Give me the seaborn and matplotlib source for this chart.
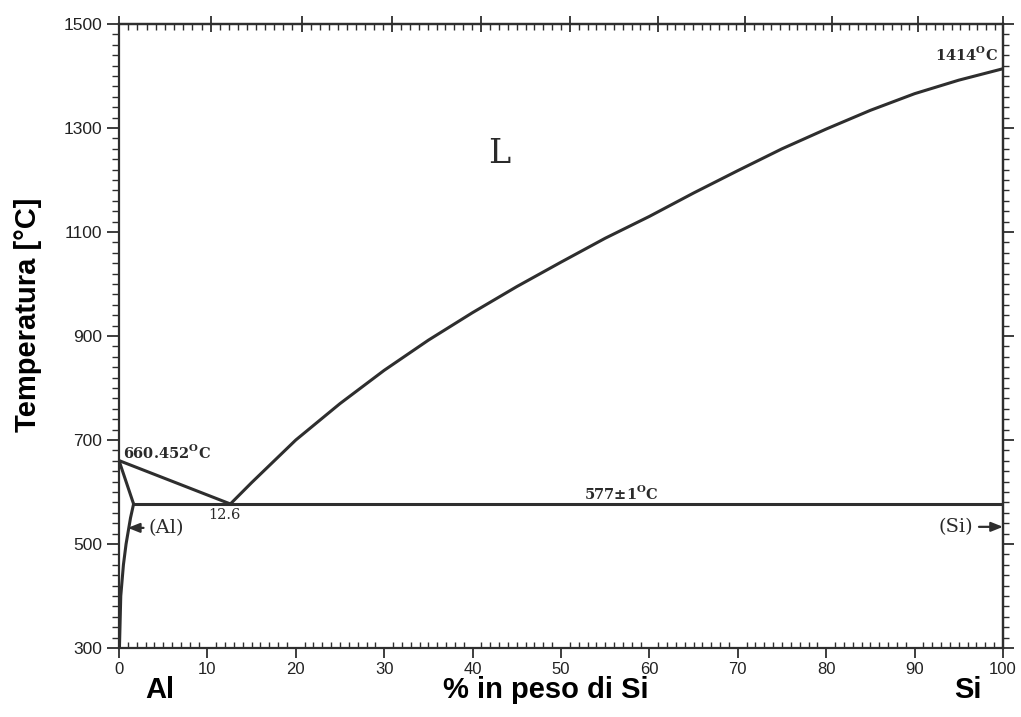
import numpy as np
import pandas as pd
import matplotlib
matplotlib.use("Agg")
import matplotlib.pyplot as plt
import seaborn as sns
from matplotlib.ticker import MultipleLocator

# ---- data ----
liq_si_x = [12.6, 15, 20, 25, 30, 35, 40, 45, 50, 55, 60, 65, 70, 75, 80, 85, 90, 95, 100]
liq_si_t = [577, 618, 700, 770, 834, 892, 945, 995, 1042, 1088, 1130, 1175, 1218, 1260,
            1298, 1334, 1366, 1392, 1414]
liq_al_x = [0.0, 12.6]
liq_al_t = [660.452, 577]
sol_al_x = [0.0, 1.65]
sol_al_t = [660.452, 577]
solvus_x = [1.65, 1.3, 0.8, 0.5, 0.2, 0.05]
solvus_t = [577, 550, 500, 460, 400, 300]
eut_x = [1.65, 100.0]
eut_t = [577, 577]

x_ticks = [0, 10, 20, 30, 40, 50, 60, 70, 80, 90, 100]
y_ticks = [300, 500, 700, 900, 1100, 1300, 1500]

sns.set_style("ticks")
plt.rcParams["font.family"] = ["Liberation Sans", "DejaVu Sans"]
plt.rcParams["mathtext.fontset"] = "custom"
plt.rcParams["mathtext.rm"] = "DejaVu Serif:bold"

fig = plt.figure(figsize=(10.21, 7.17), dpi=100)
ax = fig.add_axes([119/1021, 1-648/717, (1003-119)/1021, (648-24)/717])

lc = "#2e2e2e"
lw = 2.2
for xs, ts in [(liq_si_x, liq_si_t), (liq_al_x, liq_al_t), (sol_al_x, sol_al_t),
               (solvus_x, solvus_t), (eut_x, eut_t)]:
    df = pd.DataFrame({"x": xs, "t": ts})
    sns.lineplot(data=df, x="x", y="t", sort=False, ax=ax, color=lc, lw=lw,
                 estimator=None)

ax.set_xlim(0, 100)
ax.set_ylim(300, 1500)
ax.set_xticks(x_ticks)
ax.set_yticks(y_ticks)
ax.xaxis.set_minor_locator(MultipleLocator(1))
ax.yaxis.set_minor_locator(MultipleLocator(20))
ax.set_xlabel("")
ax.set_ylabel("")
for s in ax.spines.values():
    s.set_linewidth(1.6)
    s.set_color(lc)

ax.tick_params(axis="x", which="major", direction="out", length=7, width=1.3,
               labelsize=12, pad=3, colors=lc)
ax.tick_params(axis="x", which="minor", direction="in", length=4, width=1.0, colors=lc)
ax.tick_params(axis="y", which="major", direction="out", length=9, width=1.3,
               labelsize=12.5, pad=3, colors=lc)
ax.tick_params(axis="y", which="minor", direction="out", length=5, width=1.0, colors=lc)
for lab in ax.get_xticklabels() + ax.get_yticklabels():
    lab.set_color("#222222")

# top axis: atomic percent
def w2a(w):
    w = np.asarray(w, dtype=float)
    a = w / 28.086
    b = (100 - w) / 26.982
    return 100 * a / (a + b)

def a2w(a):
    a = np.asarray(a, dtype=float)
    return 100 * a * 28.086 / (a * 28.086 + (100 - a) * 26.982)

top = ax.secondary_xaxis("top", functions=(w2a, a2w))
top.set_xticks(list(range(0, 101, 10)))
top.xaxis.set_minor_locator(MultipleLocator(1))
top.tick_params(which="major", direction="inout", length=12, width=1.3, labeltop=False, colors=lc)
top.tick_params(which="minor", direction="in", length=4, width=1.0, colors=lc)
top.spines["top"].set_linewidth(1.6)

right = ax.secondary_yaxis("right")
right.set_yticks(y_ticks)
right.yaxis.set_minor_locator(MultipleLocator(20))
right.tick_params(which="major", direction="out", length=8, width=1.3, labelright=False, colors=lc)
right.tick_params(which="minor", direction="out", length=4, width=1.0, colors=lc)
right.spines["right"].set_linewidth(1.6)

# annotations
serif = ["DejaVu Serif"]
tc = "#2a2a2a"
ax.text(0.45, 665, r"660.452$^{\mathrm{O}}$C", family=serif, weight="bold", fontsize=10.5,
        color=tc, ha="left", va="baseline")
ax.text(11.9, 556, "12.6", family=serif, fontsize=10.5, color=tc, ha="center", va="center")
ax.text(56.8, 580, r"577$\pm$1$^{\mathrm{O}}$C", family=serif, weight="bold", fontsize=10.5,
        color=tc, ha="center", va="bottom")
ax.text(99.4, 1431, r"1414$^{\mathrm{O}}$C", family=serif, weight="bold", fontsize=10.5,
        color=tc, ha="right", va="baseline")
ax.text(43.0, 1250, "L", family=serif, fontsize=24, color=tc, ha="center", va="center")

ax.annotate("(Al)", xy=(1.0, 531), xytext=(3.3, 531), family=serif, fontsize=14,
            color=tc, ha="left", va="center",
            arrowprops=dict(arrowstyle="-|>,head_length=0.5,head_width=0.2",
                            color=lc, lw=1.6, shrinkA=1, shrinkB=0))
ax.annotate("(Si)", xy=(100, 533), xytext=(96.6, 533), family=serif, fontsize=14,
            color=tc, ha="right", va="center",
            arrowprops=dict(arrowstyle="-|>,head_length=0.5,head_width=0.2",
                            color=lc, lw=1.6, shrinkA=2, shrinkB=0))

# axis titles
fig.text(28/1021, 1-315/717, "Temperatura [°C]", rotation=90, ha="center", va="center",
         fontsize=21, weight="bold", color="black")
fig.text(546/1021, 1-690/717, "% in peso di Si", ha="center", va="center",
         fontsize=21, weight="bold", color="black")
fig.text(160/1021, 1-690/717, "Al", ha="center", va="center",
         fontsize=21, weight="bold", color="black")
fig.text(968/1021, 1-690/717, "Si", ha="center", va="center",
         fontsize=21, weight="bold", color="black")

fig.savefig("out.png", dpi=100)
